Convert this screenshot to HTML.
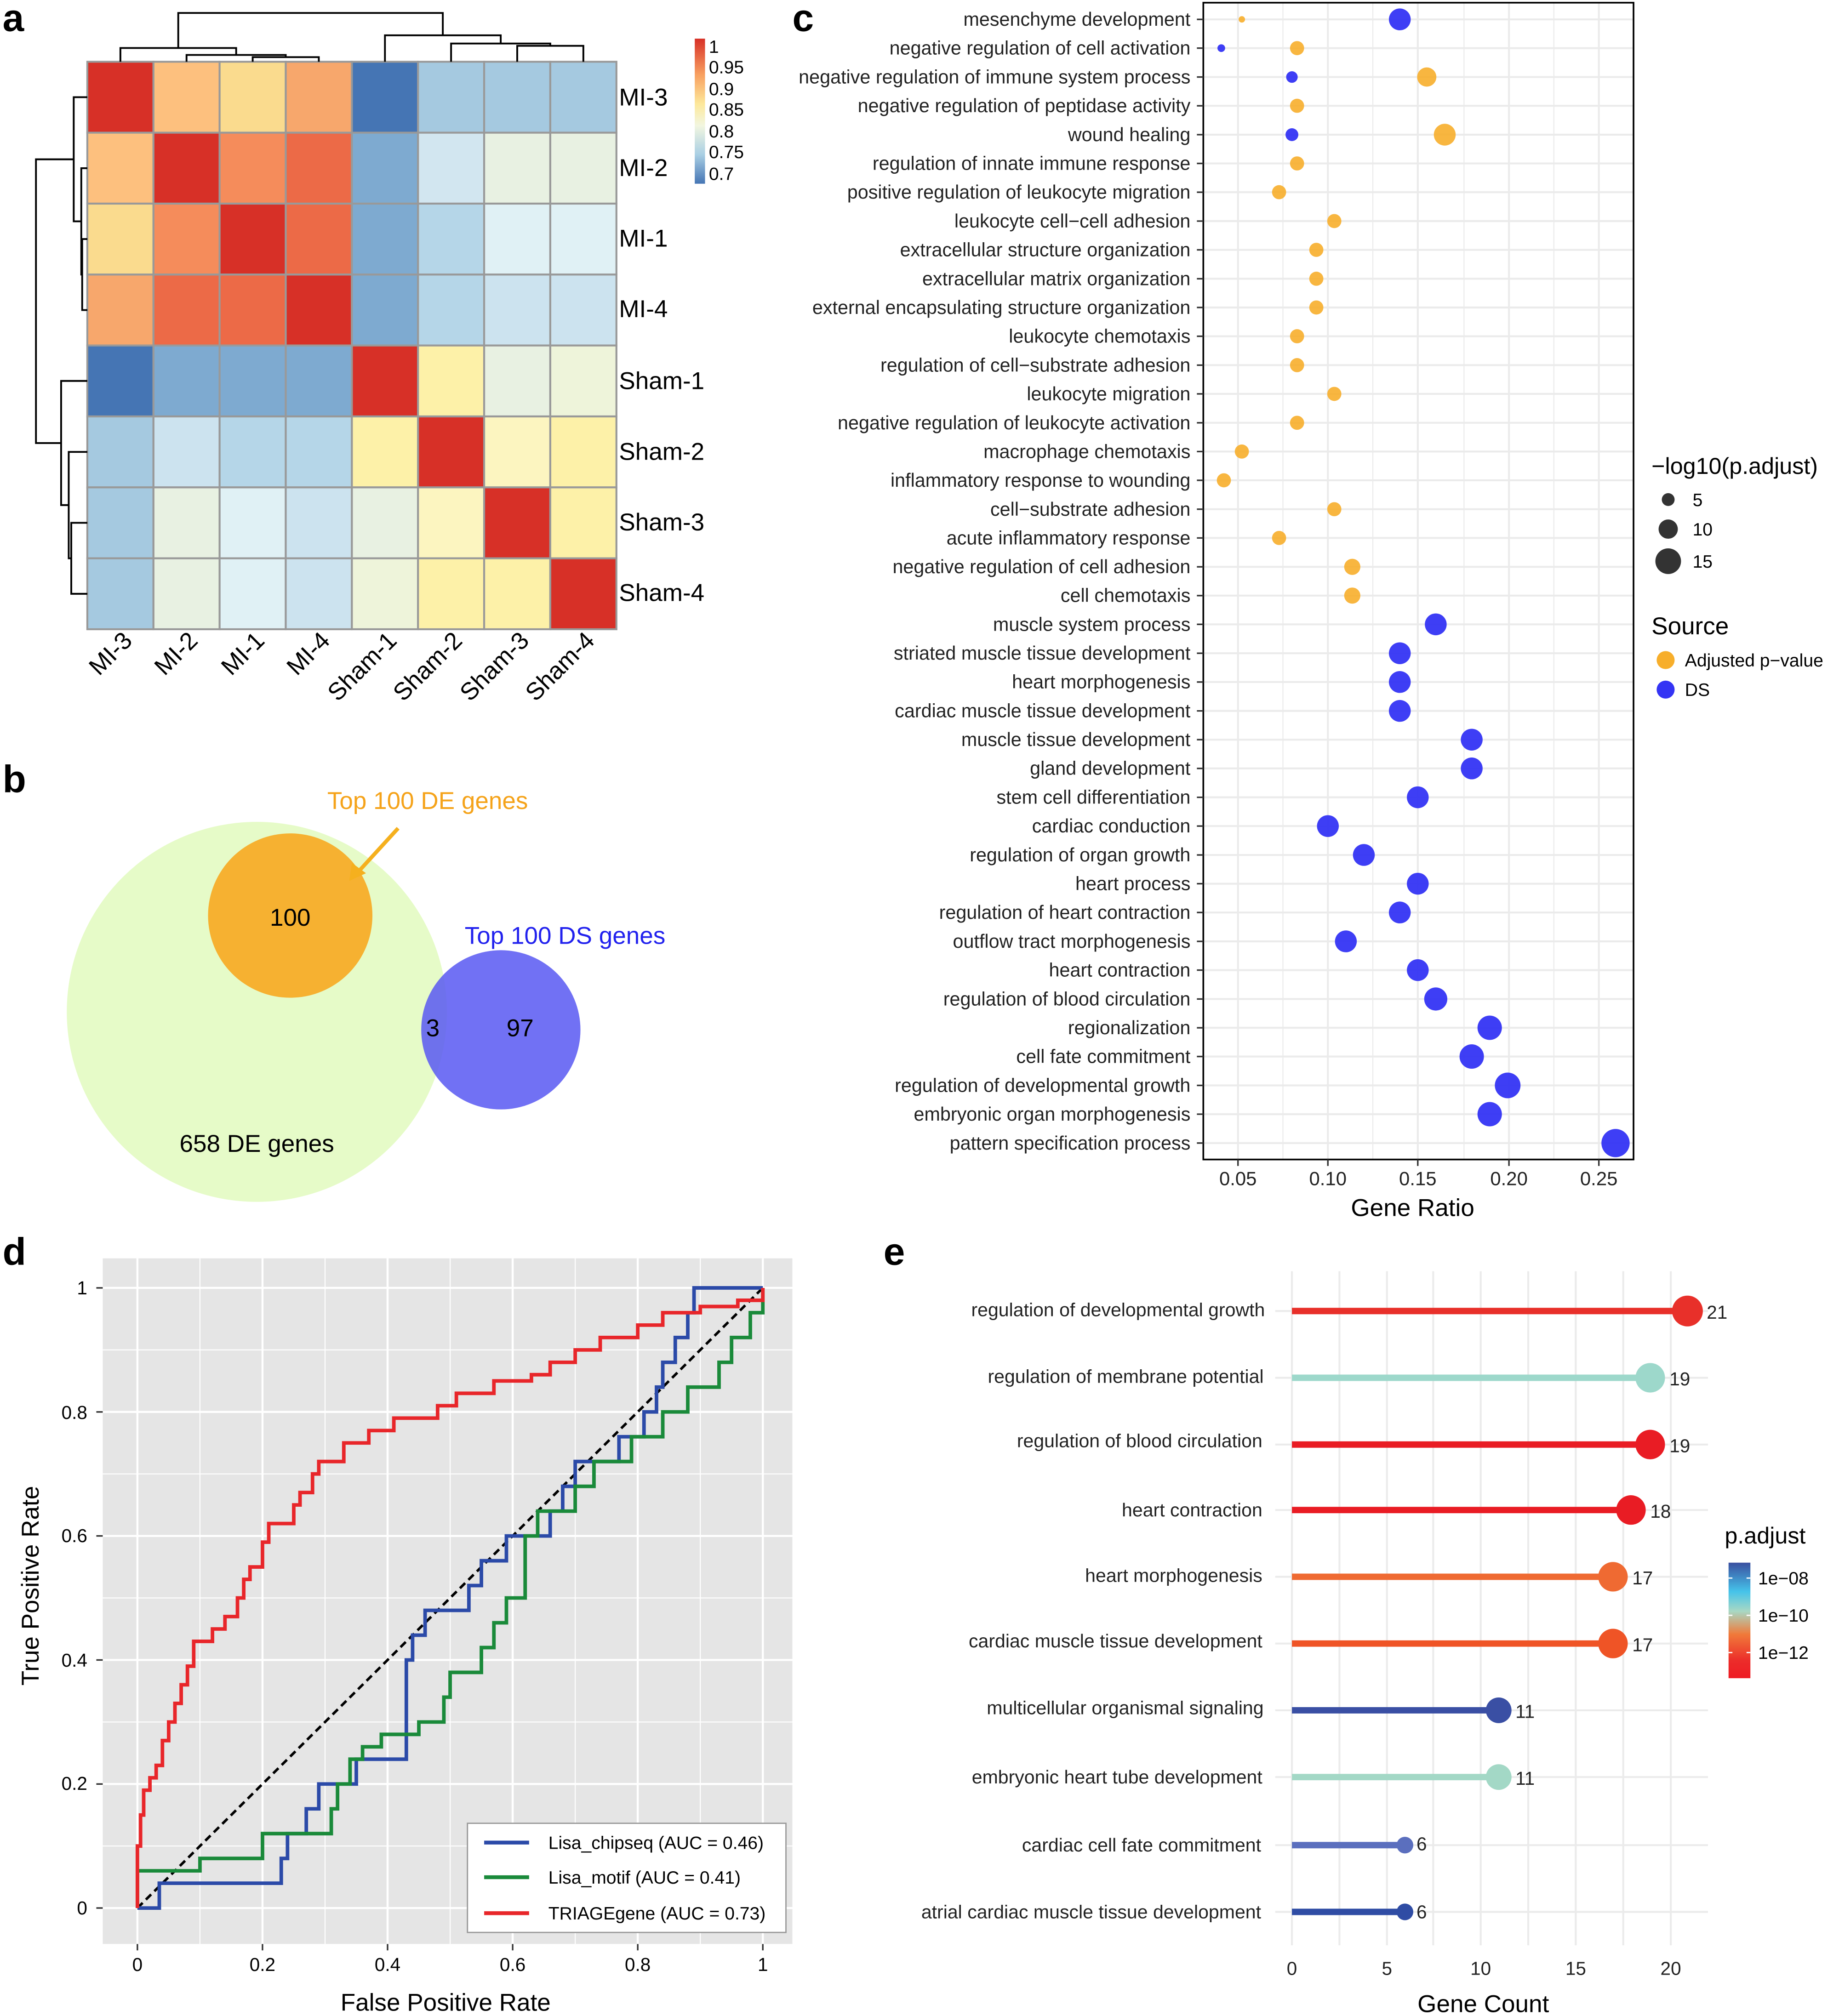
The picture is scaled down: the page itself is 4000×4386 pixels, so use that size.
<!DOCTYPE html>
<html><head><meta charset="utf-8"><style>
html,body{margin:0;padding:0;background:#fff;}
svg{display:block;}
text{font-family:"Liberation Sans",Arial,sans-serif;}
</style></head><body>
<svg width="4000" height="4386" viewBox="0 0 1432 1570" xmlns="http://www.w3.org/2000/svg">
<defs>
<linearGradient id="hg" x1="0" y1="0" x2="0" y2="1">
<stop offset="0" stop-color="#d73027"/><stop offset="0.25" stop-color="#f8a060"/><stop offset="0.45" stop-color="#fde89a"/><stop offset="0.6" stop-color="#f2f6e0"/><stop offset="0.8" stop-color="#a9cfe4"/><stop offset="1" stop-color="#4575b4"/>
</linearGradient>
<linearGradient id="eg" x1="0" y1="0" x2="0" y2="1">
<stop offset="0" stop-color="#3a4fa0"/><stop offset="0.25" stop-color="#45c3ea"/><stop offset="0.42" stop-color="#a8d8c4"/><stop offset="0.62" stop-color="#f07a3a"/><stop offset="0.85" stop-color="#ec2c2a"/><stop offset="1" stop-color="#ee1c24"/>
</linearGradient>
</defs>
<rect width="1432" height="1570" fill="#fff"/>

<!-- Panel a -->
<text x="2" y="24" font-size="30" font-weight="bold">a</text>
<g stroke="#999" stroke-width="1.5">
<rect x="68" y="48" width="51.5" height="55.25" fill="#d73027"/><rect x="119.5" y="48" width="51.5" height="55.25" fill="#fdc07e"/><rect x="171" y="48" width="51.5" height="55.25" fill="#fadb8e"/><rect x="222.5" y="48" width="51.5" height="55.25" fill="#f7a76c"/><rect x="274" y="48" width="51.5" height="55.25" fill="#4575b4"/><rect x="325.5" y="48" width="51.5" height="55.25" fill="#a5c9e0"/><rect x="377" y="48" width="51.5" height="55.25" fill="#a5c9e0"/><rect x="428.5" y="48" width="51.5" height="55.25" fill="#a5c9e0"/>
<rect x="68" y="103.25" width="51.5" height="55.25" fill="#fdc07e"/><rect x="119.5" y="103.25" width="51.5" height="55.25" fill="#d73027"/><rect x="171" y="103.25" width="51.5" height="55.25" fill="#f58c5b"/><rect x="222.5" y="103.25" width="51.5" height="55.25" fill="#ec6a47"/><rect x="274" y="103.25" width="51.5" height="55.25" fill="#7eaad0"/><rect x="325.5" y="103.25" width="51.5" height="55.25" fill="#d2e6f0"/><rect x="377" y="103.25" width="51.5" height="55.25" fill="#e8f1e2"/><rect x="428.5" y="103.25" width="51.5" height="55.25" fill="#e8f1e2"/>
<rect x="68" y="158.5" width="51.5" height="55.25" fill="#fadb8e"/><rect x="119.5" y="158.5" width="51.5" height="55.25" fill="#f58c5b"/><rect x="171" y="158.5" width="51.5" height="55.25" fill="#d73027"/><rect x="222.5" y="158.5" width="51.5" height="55.25" fill="#ec6a47"/><rect x="274" y="158.5" width="51.5" height="55.25" fill="#7eaad0"/><rect x="325.5" y="158.5" width="51.5" height="55.25" fill="#b5d6e8"/><rect x="377" y="158.5" width="51.5" height="55.25" fill="#e0f1f5"/><rect x="428.5" y="158.5" width="51.5" height="55.25" fill="#e0f1f5"/>
<rect x="68" y="213.75" width="51.5" height="55.25" fill="#f7a76c"/><rect x="119.5" y="213.75" width="51.5" height="55.25" fill="#ec6a47"/><rect x="171" y="213.75" width="51.5" height="55.25" fill="#ec6a47"/><rect x="222.5" y="213.75" width="51.5" height="55.25" fill="#d73027"/><rect x="274" y="213.75" width="51.5" height="55.25" fill="#7eaad0"/><rect x="325.5" y="213.75" width="51.5" height="55.25" fill="#b5d6e8"/><rect x="377" y="213.75" width="51.5" height="55.25" fill="#cce3ef"/><rect x="428.5" y="213.75" width="51.5" height="55.25" fill="#cce3ef"/>
<rect x="68" y="269" width="51.5" height="55.25" fill="#4575b4"/><rect x="119.5" y="269" width="51.5" height="55.25" fill="#7eaad0"/><rect x="171" y="269" width="51.5" height="55.25" fill="#7eaad0"/><rect x="222.5" y="269" width="51.5" height="55.25" fill="#7eaad0"/><rect x="274" y="269" width="51.5" height="55.25" fill="#d73027"/><rect x="325.5" y="269" width="51.5" height="55.25" fill="#fdf1a8"/><rect x="377" y="269" width="51.5" height="55.25" fill="#e8f1e2"/><rect x="428.5" y="269" width="51.5" height="55.25" fill="#eef4da"/>
<rect x="68" y="324.25" width="51.5" height="55.25" fill="#a5c9e0"/><rect x="119.5" y="324.25" width="51.5" height="55.25" fill="#cce3ef"/><rect x="171" y="324.25" width="51.5" height="55.25" fill="#b5d6e8"/><rect x="222.5" y="324.25" width="51.5" height="55.25" fill="#b5d6e8"/><rect x="274" y="324.25" width="51.5" height="55.25" fill="#fdf1a8"/><rect x="325.5" y="324.25" width="51.5" height="55.25" fill="#d73027"/><rect x="377" y="324.25" width="51.5" height="55.25" fill="#fcf5c0"/><rect x="428.5" y="324.25" width="51.5" height="55.25" fill="#fdf1a8"/>
<rect x="68" y="379.5" width="51.5" height="55.25" fill="#a5c9e0"/><rect x="119.5" y="379.5" width="51.5" height="55.25" fill="#e8f1e2"/><rect x="171" y="379.5" width="51.5" height="55.25" fill="#e0f1f5"/><rect x="222.5" y="379.5" width="51.5" height="55.25" fill="#cce3ef"/><rect x="274" y="379.5" width="51.5" height="55.25" fill="#e8f1e2"/><rect x="325.5" y="379.5" width="51.5" height="55.25" fill="#fcf5c0"/><rect x="377" y="379.5" width="51.5" height="55.25" fill="#d73027"/><rect x="428.5" y="379.5" width="51.5" height="55.25" fill="#fdf1a8"/>
<rect x="68" y="434.75" width="51.5" height="55.25" fill="#a5c9e0"/><rect x="119.5" y="434.75" width="51.5" height="55.25" fill="#e8f1e2"/><rect x="171" y="434.75" width="51.5" height="55.25" fill="#e0f1f5"/><rect x="222.5" y="434.75" width="51.5" height="55.25" fill="#cce3ef"/><rect x="274" y="434.75" width="51.5" height="55.25" fill="#eef4da"/><rect x="325.5" y="434.75" width="51.5" height="55.25" fill="#fdf1a8"/><rect x="377" y="434.75" width="51.5" height="55.25" fill="#fdf1a8"/><rect x="428.5" y="434.75" width="51.5" height="55.25" fill="#d73027"/>
</g>
<g stroke="#000" stroke-width="1.4" fill="none">
<path d="M196.75 48V44.4H248.25V48"/>
<path d="M145.25 48V42.7H222.5V44.4"/>
<path d="M93.75 48V37.3H183.9V42.7"/>
<path d="M402.75 48V35.6H454.25V48"/>
<path d="M351.25 48V33.8H428.5V35.6"/>
<path d="M299.75 48V27.4H389.9V33.8"/>
<path d="M138.8 37.3V10H344.8V27.4"/>
<path d="M68 186.1H64V241.4H68"/>
<path d="M68 130.9H63.3V213.75H64"/>
<path d="M68 75.6H57.4V172.3H63.3"/>
<path d="M68 407.1H55.5V462.4H68"/>
<path d="M68 351.9H53.5V434.75H55.5"/>
<path d="M68 296.6H47.6V393.3H53.5"/>
<path d="M57.4 124H28V345H47.6"/>
</g>
<g font-size="19" fill="#000">
<text x="482" y="82">MI-3</text><text x="482" y="137">MI-2</text><text x="482" y="192">MI-1</text><text x="482" y="247">MI-4</text>
<text x="482" y="303">Sham-1</text><text x="482" y="358">Sham-2</text><text x="482" y="413">Sham-3</text><text x="482" y="468">Sham-4</text>
</g>
<g font-size="19" text-anchor="end">
<text transform="translate(104,500) rotate(-45)">MI-3</text>
<text transform="translate(155,500) rotate(-45)">MI-2</text>
<text transform="translate(207,500) rotate(-45)">MI-1</text>
<text transform="translate(258,500) rotate(-45)">MI-4</text>
<text transform="translate(310,500) rotate(-45)">Sham-1</text>
<text transform="translate(361,500) rotate(-45)">Sham-2</text>
<text transform="translate(413,500) rotate(-45)">Sham-3</text>
<text transform="translate(464,500) rotate(-45)">Sham-4</text>
</g>
<rect x="541" y="30" width="8" height="113" fill="url(#hg)"/>
<g font-size="14"><text x="552" y="41">1</text><text x="552" y="57">0.95</text><text x="552" y="74">0.9</text><text x="552" y="90">0.85</text><text x="552" y="107">0.8</text><text x="552" y="123">0.75</text><text x="552" y="140">0.7</text></g>

<!-- Panel b -->
<text x="2" y="617" font-size="30" font-weight="bold">b</text>
<circle cx="200" cy="788" r="148" fill="#e6fbc8"/>
<circle cx="226" cy="713" r="64" fill="#f6b131"/>
<circle cx="390" cy="802" r="62" fill="#5858f2" fill-opacity="0.85"/>
<text x="226" y="721" font-size="19" text-anchor="middle">100</text>
<text x="337" y="807" font-size="19" text-anchor="middle">3</text>
<text x="405" y="807" font-size="19" text-anchor="middle">97</text>
<text x="200" y="897" font-size="19" text-anchor="middle">658 DE genes</text>
<text x="333" y="630" font-size="19" text-anchor="middle" fill="#f5a31a">Top 100 DE genes</text>
<path d="M310 645L278 680" stroke="#f5b01e" stroke-width="3"/>
<path d="M272 686L274 672L285 680Z" fill="#f5b01e"/>
<text x="440" y="735" font-size="19" text-anchor="middle" fill="#2222ee">Top 100 DS genes</text>

<!-- Panel c -->
<text x="617" y="24" font-size="30" font-weight="bold">c</text>
<g stroke="#ebebeb">
<path d="M964 2V903M1034 2V903M1104 2V903M1175 2V903M1245 2V903" stroke-width="1.5"/>
<path d="M999 2V903M1069 2V903M1140 2V903M1210 2V903" stroke-width="0.8"/>
</g>
<g stroke="#ebebeb" stroke-width="1.5">
<path d="M937 15H1272M937 37.4H1272M937 59.9H1272M937 82.3H1272M937 104.8H1272M937 127.2H1272M937 149.6H1272M937 172.1H1272M937 194.5H1272M937 217H1272M937 239.4H1272M937 261.8H1272M937 284.3H1272M937 306.7H1272M937 329.2H1272M937 351.6H1272M937 374H1272M937 396.5H1272M937 418.9H1272M937 441.4H1272M937 463.8H1272M937 486.2H1272M937 508.7H1272M937 531.1H1272M937 553.6H1272M937 576H1272M937 598.4H1272M937 620.9H1272M937 643.3H1272M937 665.8H1272M937 688.2H1272M937 710.6H1272M937 733.1H1272M937 755.5H1272M937 778H1272M937 800.4H1272M937 822.8H1272M937 845.3H1272M937 867.7H1272M937 890.2H1272"/>
</g>
<rect x="937" y="2" width="335" height="901" fill="none" stroke="#000" stroke-width="1.3"/>
<g font-size="14.8" text-anchor="end" fill="#222">
<text x="927" y="20">mesenchyme development</text>
<text x="927" y="42.4">negative regulation of cell activation</text>
<text x="927" y="64.9">negative regulation of immune system process</text>
<text x="927" y="87.3">negative regulation of peptidase activity</text>
<text x="927" y="109.8">wound healing</text>
<text x="927" y="132.2">regulation of innate immune response</text>
<text x="927" y="154.6">positive regulation of leukocyte migration</text>
<text x="927" y="177.1">leukocyte cell−cell adhesion</text>
<text x="927" y="199.5">extracellular structure organization</text>
<text x="927" y="222">extracellular matrix organization</text>
<text x="927" y="244.4">external encapsulating structure organization</text>
<text x="927" y="266.8">leukocyte chemotaxis</text>
<text x="927" y="289.3">regulation of cell−substrate adhesion</text>
<text x="927" y="311.7">leukocyte migration</text>
<text x="927" y="334.2">negative regulation of leukocyte activation</text>
<text x="927" y="356.6">macrophage chemotaxis</text>
<text x="927" y="379">inflammatory response to wounding</text>
<text x="927" y="401.5">cell−substrate adhesion</text>
<text x="927" y="423.9">acute inflammatory response</text>
<text x="927" y="446.4">negative regulation of cell adhesion</text>
<text x="927" y="468.8">cell chemotaxis</text>
<text x="927" y="491.2">muscle system process</text>
<text x="927" y="513.7">striated muscle tissue development</text>
<text x="927" y="536.1">heart morphogenesis</text>
<text x="927" y="558.6">cardiac muscle tissue development</text>
<text x="927" y="581">muscle tissue development</text>
<text x="927" y="603.4">gland development</text>
<text x="927" y="625.9">stem cell differentiation</text>
<text x="927" y="648.3">cardiac conduction</text>
<text x="927" y="670.8">regulation of organ growth</text>
<text x="927" y="693.2">heart process</text>
<text x="927" y="715.6">regulation of heart contraction</text>
<text x="927" y="738.1">outflow tract morphogenesis</text>
<text x="927" y="760.5">heart contraction</text>
<text x="927" y="783">regulation of blood circulation</text>
<text x="927" y="805.4">regionalization</text>
<text x="927" y="827.8">cell fate commitment</text>
<text x="927" y="850.3">regulation of developmental growth</text>
<text x="927" y="872.7">embryonic organ morphogenesis</text>
<text x="927" y="895.2">pattern specification process</text>
</g>
<path d="M932 15h5M932 37.4h5M932 59.9h5M932 82.3h5M932 104.8h5M932 127.2h5M932 149.6h5M932 172.1h5M932 194.5h5M932 217h5M932 239.4h5M932 261.8h5M932 284.3h5M932 306.7h5M932 329.2h5M932 351.6h5M932 374h5M932 396.5h5M932 418.9h5M932 441.4h5M932 463.8h5M932 486.2h5M932 508.7h5M932 531.1h5M932 553.6h5M932 576h5M932 598.4h5M932 620.9h5M932 643.3h5M932 665.8h5M932 688.2h5M932 710.6h5M932 733.1h5M932 755.5h5M932 778h5M932 800.4h5M932 822.8h5M932 845.3h5M932 867.7h5M932 890.2h5" stroke="#333" stroke-width="1.2"/>
<g fill="#f7ae2b" fill-opacity="0.9">
<circle cx="967" cy="15" r="2.5"/>
<circle cx="1010" cy="37.4" r="5.5"/>
<circle cx="1111" cy="59.9" r="7.5"/>
<circle cx="1010" cy="82.3" r="5.5"/>
<circle cx="1125" cy="104.8" r="8.5"/>
<circle cx="1010" cy="127.2" r="5.5"/>
<circle cx="996" cy="149.6" r="5.5"/>
<circle cx="1039" cy="172.1" r="5.5"/>
<circle cx="1025" cy="194.5" r="5.5"/>
<circle cx="1025" cy="217" r="5.5"/>
<circle cx="1025" cy="239.4" r="5.5"/>
<circle cx="1010" cy="261.8" r="5.5"/>
<circle cx="1010" cy="284.3" r="5.5"/>
<circle cx="1039" cy="306.7" r="5.5"/>
<circle cx="1010" cy="329.2" r="5.5"/>
<circle cx="967" cy="351.6" r="5.5"/>
<circle cx="953" cy="374" r="5.5"/>
<circle cx="1039" cy="396.5" r="5.5"/>
<circle cx="996" cy="418.9" r="5.5"/>
<circle cx="1053" cy="441.4" r="6.3"/>
<circle cx="1053" cy="463.8" r="6.3"/>
</g>
<g fill="#3434f4" fill-opacity="0.95">
<circle cx="1090" cy="15" r="8.5"/>
<circle cx="951" cy="37.4" r="3"/>
<circle cx="1006" cy="59.9" r="4.5"/>
<circle cx="1006" cy="104.8" r="5"/>
<circle cx="1118" cy="486.2" r="8.5"/>
<circle cx="1090" cy="508.7" r="8.5"/>
<circle cx="1090" cy="531.1" r="8.5"/>
<circle cx="1090" cy="553.6" r="8.5"/>
<circle cx="1146" cy="576" r="8.5"/>
<circle cx="1146" cy="598.4" r="8.5"/>
<circle cx="1104" cy="620.9" r="8.5"/>
<circle cx="1034" cy="643.3" r="8.5"/>
<circle cx="1062" cy="665.8" r="8.5"/>
<circle cx="1104" cy="688.2" r="8.5"/>
<circle cx="1090" cy="710.6" r="8.5"/>
<circle cx="1048" cy="733.1" r="8.5"/>
<circle cx="1104" cy="755.5" r="8.5"/>
<circle cx="1118" cy="778" r="9"/>
<circle cx="1160" cy="800.4" r="9.5"/>
<circle cx="1146" cy="822.8" r="9.5"/>
<circle cx="1174" cy="845.3" r="10"/>
<circle cx="1160" cy="867.7" r="9.5"/>
<circle cx="1258" cy="890.2" r="11"/>
</g>
<path d="M964 903v5M1034 903v5M1104 903v5M1175 903v5M1245 903v5" stroke="#333" stroke-width="1.2"/>
<g font-size="15" text-anchor="middle" fill="#222"><text x="964" y="923">0.05</text><text x="1034" y="923">0.10</text><text x="1104" y="923">0.15</text><text x="1175" y="923">0.20</text><text x="1245" y="923">0.25</text></g>
<text x="1100" y="947" font-size="19" text-anchor="middle">Gene Ratio</text>
<text x="1286" y="369" font-size="18">−log10(p.adjust)</text>
<g fill="#333"><circle cx="1299" cy="389" r="5"/><circle cx="1299" cy="412" r="7.5"/><circle cx="1299" cy="437" r="10"/></g>
<g font-size="14"><text x="1318" y="394">5</text><text x="1318" y="417">10</text><text x="1318" y="442">15</text></g>
<text x="1286" y="494" font-size="19">Source</text>
<circle cx="1297" cy="514" r="7" fill="#f7ae2b"/><circle cx="1297" cy="537" r="7" fill="#3434f4"/>
<text x="1312" y="519" font-size="14">Adjusted p−value</text><text x="1312" y="542" font-size="14">DS</text>

<!-- Panel d -->
<text x="2" y="985" font-size="30" font-weight="bold">d</text>
<rect x="80" y="980" width="537" height="534" fill="#e5e5e5"/>
<g stroke="#fff">
<path d="M80 1437.7H617M80 1341.1H617M80 1244.5H617M80 1147.9H617M80 1051.3H617M155.7 980V1514M253.1 980V1514M350.5 980V1514M447.9 980V1514M545.3 980V1514" stroke-width="0.8"/>
<path d="M80 1486H617M80 1389.4H617M80 1292.8H617M80 1196.2H617M80 1099.6H617M80 1003H617M107 980V1514M204.4 980V1514M301.8 980V1514M399.2 980V1514M496.6 980V1514M594 980V1514" stroke-width="1.6"/>
</g>
<g transform="translate(107,1486) scale(487,-483)" fill="none">
<path d="M0 0L1 1" stroke="#000" stroke-dasharray="16 10" vector-effect="non-scaling-stroke" stroke-width="5.6"/>
<polyline vector-effect="non-scaling-stroke" stroke-width="7.8" stroke="#2b4aa8" points="0,0 0.035,0 0.035,0.04 0.23,0.04 0.23,0.08 0.24,0.08 0.24,0.12 0.27,0.12 0.27,0.16 0.29,0.16 0.29,0.2 0.35,0.2 0.35,0.24 0.43,0.24 0.43,0.28 0.43,0.4 0.44,0.4 0.44,0.44 0.46,0.44 0.46,0.48 0.53,0.48 0.53,0.52 0.55,0.52 0.55,0.56 0.59,0.56 0.59,0.6 0.66,0.6 0.66,0.64 0.68,0.64 0.68,0.68 0.7,0.68 0.7,0.72 0.77,0.72 0.77,0.76 0.81,0.76 0.81,0.8 0.83,0.8 0.83,0.84 0.84,0.84 0.84,0.88 0.86,0.88 0.86,0.92 0.88,0.92 0.88,0.96 0.89,0.96 0.89,1 1,1"/>
<polyline vector-effect="non-scaling-stroke" stroke-width="7.8" stroke="#1a8a3a" points="0,0 0,0.06 0.1,0.06 0.1,0.08 0.2,0.08 0.2,0.12 0.31,0.12 0.31,0.16 0.32,0.16 0.32,0.2 0.34,0.2 0.34,0.24 0.36,0.24 0.36,0.26 0.39,0.26 0.39,0.28 0.45,0.28 0.45,0.3 0.49,0.3 0.49,0.34 0.5,0.34 0.5,0.38 0.55,0.38 0.55,0.42 0.57,0.42 0.57,0.46 0.59,0.46 0.59,0.5 0.62,0.5 0.62,0.6 0.64,0.6 0.64,0.64 0.7,0.64 0.7,0.68 0.73,0.68 0.73,0.72 0.79,0.72 0.79,0.76 0.84,0.76 0.84,0.8 0.88,0.8 0.88,0.84 0.93,0.84 0.93,0.88 0.95,0.88 0.95,0.92 0.98,0.92 0.98,0.96 1,0.96 1,1"/>
<polyline vector-effect="non-scaling-stroke" stroke-width="7.8" stroke="#e8262a" points="0,0 0,0.1 0.005,0.1 0.005,0.15 0.01,0.15 0.01,0.19 0.02,0.19 0.02,0.21 0.03,0.21 0.03,0.23 0.04,0.23 0.04,0.27 0.05,0.27 0.05,0.3 0.06,0.3 0.06,0.33 0.07,0.33 0.07,0.36 0.08,0.36 0.08,0.39 0.09,0.39 0.09,0.43 0.12,0.43 0.12,0.45 0.14,0.45 0.14,0.47 0.16,0.47 0.16,0.5 0.17,0.5 0.17,0.53 0.18,0.53 0.18,0.55 0.2,0.55 0.2,0.59 0.21,0.59 0.21,0.62 0.25,0.62 0.25,0.65 0.26,0.65 0.26,0.67 0.28,0.67 0.28,0.7 0.29,0.7 0.29,0.72 0.33,0.72 0.33,0.75 0.37,0.75 0.37,0.77 0.41,0.77 0.41,0.79 0.48,0.79 0.48,0.81 0.51,0.81 0.51,0.83 0.57,0.83 0.57,0.85 0.63,0.85 0.63,0.86 0.66,0.86 0.66,0.88 0.7,0.88 0.7,0.9 0.74,0.9 0.74,0.92 0.8,0.92 0.8,0.94 0.84,0.94 0.84,0.96 0.9,0.96 0.9,0.97 0.96,0.97 0.96,0.98 1,0.98 1,1"/>
</g>
<rect x="364" y="1420" width="248" height="85" fill="#fff" stroke="#999" stroke-width="1"/>
<path d="M377 1435H412" stroke="#2b4aa8" stroke-width="3"/><path d="M377 1462H412" stroke="#1a8a3a" stroke-width="3"/><path d="M377 1490H412" stroke="#e8262a" stroke-width="3"/>
<g font-size="14"><text x="427" y="1440">Lisa_chipseq (AUC = 0.46)</text><text x="427" y="1467">Lisa_motif (AUC = 0.41)</text><text x="427" y="1495">TRIAGEgene (AUC = 0.73)</text></g>
<path d="M75 1486h5M75 1389.4h5M75 1292.8h5M75 1196.2h5M75 1099.6h5M75 1003h5M107 1514v5M204.4 1514v5M301.8 1514v5M399.2 1514v5M496.6 1514v5M594 1514v5" stroke="#333" stroke-width="1.2"/>
<g font-size="14.5" text-anchor="end"><text x="68" y="1491">0</text><text x="68" y="1394">0.2</text><text x="68" y="1298">0.4</text><text x="68" y="1201">0.6</text><text x="68" y="1105">0.8</text><text x="68" y="1008">1</text></g>
<g font-size="14.5" text-anchor="middle"><text x="107" y="1535">0</text><text x="204.4" y="1535">0.2</text><text x="301.8" y="1535">0.4</text><text x="399.2" y="1535">0.6</text><text x="496.6" y="1535">0.8</text><text x="594" y="1535">1</text></g>
<text x="347" y="1566" font-size="19" text-anchor="middle">False Positive Rate</text>
<text transform="translate(30,1235) rotate(-90)" font-size="19" text-anchor="middle">True Positive Rate</text>

<!-- Panel e -->
<text x="688" y="985" font-size="30" font-weight="bold">e</text>
<g stroke="#ebebeb" stroke-width="1.5">
<path d="M1006 990V1515M1043 990V1515M1080 990V1515M1116 990V1515M1153 990V1515M1190 990V1515M1227 990V1515M1264 990V1515M1301 990V1515"/>
<path d="M993 1021H1330M993 1073H1330M993 1125H1330M993 1176H1330M993 1228H1330M993 1280H1330M993 1332H1330M993 1384H1330M993 1437H1330M993 1489H1330"/>
</g>
<g stroke-width="5">
<path d="M1006 1021H1314" stroke="#e8302a"/>
<path d="M1006 1073H1285" stroke="#9dd8cb"/>
<path d="M1006 1125H1285" stroke="#e91c24"/>
<path d="M1006 1176H1270" stroke="#e91c24"/>
<path d="M1006 1228H1256" stroke="#ef6a32"/>
<path d="M1006 1280H1256" stroke="#ef5426"/>
<path d="M1006 1332H1167" stroke="#3a4fa4"/>
<path d="M1006 1384H1167" stroke="#a3d8c6"/>
<path d="M1006 1437H1094" stroke="#5b6fbe"/>
<path d="M1006 1489H1094" stroke="#2f4ca4"/>
</g>
<circle cx="1314" cy="1021" r="12" fill="#e8302a"/>
<circle cx="1285" cy="1073" r="11.5" fill="#9dd8cb"/>
<circle cx="1285" cy="1125" r="11.5" fill="#e91c24"/>
<circle cx="1270" cy="1176" r="11.5" fill="#e91c24"/>
<circle cx="1256" cy="1228" r="11.5" fill="#ef6a32"/>
<circle cx="1256" cy="1280" r="11.5" fill="#ef5426"/>
<circle cx="1167" cy="1332" r="10" fill="#3a4fa4"/>
<circle cx="1167" cy="1384" r="10" fill="#a3d8c6"/>
<circle cx="1094" cy="1437" r="6.5" fill="#5b6fbe"/>
<circle cx="1094" cy="1489" r="6.5" fill="#2f4ca4"/>
<g font-size="14.5" fill="#222">
<text x="1329" y="1027">21</text><text x="1300" y="1079">19</text><text x="1300" y="1131">19</text><text x="1285" y="1182">18</text><text x="1271" y="1234">17</text><text x="1271" y="1286">17</text><text x="1180" y="1338">11</text><text x="1180" y="1390">11</text><text x="1103" y="1441">6</text><text x="1103" y="1494">6</text>
</g>
<g font-size="14.7" text-anchor="end" fill="#222">
<text x="985" y="1025">regulation of developmental growth</text>
<text x="984" y="1077">regulation of membrane potential</text>
<text x="983" y="1127">regulation of blood circulation</text>
<text x="983" y="1181">heart contraction</text>
<text x="983" y="1232">heart morphogenesis</text>
<text x="983" y="1283">cardiac muscle tissue development</text>
<text x="984" y="1335">multicellular organismal signaling</text>
<text x="983" y="1389">embryonic heart tube development</text>
<text x="982" y="1442">cardiac cell fate commitment</text>
<text x="982" y="1494">atrial cardiac muscle tissue development</text>
</g>
<g font-size="14.5" text-anchor="middle" fill="#222"><text x="1006" y="1538">0</text><text x="1080" y="1538">5</text><text x="1153" y="1538">10</text><text x="1227" y="1538">15</text><text x="1301" y="1538">20</text></g>
<text x="1155" y="1567" font-size="19" text-anchor="middle">Gene Count</text>
<text x="1343" y="1202" font-size="18">p.adjust</text>
<rect x="1346" y="1217" width="17" height="90" fill="url(#eg)"/>
<path d="M1346 1229h3M1360 1229h3M1346 1258h3M1360 1258h3M1346 1287h3M1360 1287h3" stroke="#fff" stroke-width="1"/>
<g font-size="14"><text x="1369" y="1234">1e−08</text><text x="1369" y="1263">1e−10</text><text x="1369" y="1292">1e−12</text></g>
</svg>
</body></html>
